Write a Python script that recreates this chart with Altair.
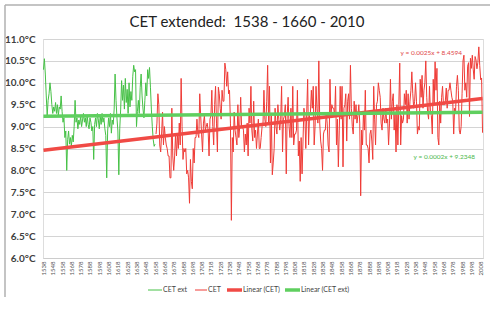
import altair as alt
import pandas as pd

# ---- data ----
ext_start = 1538
cet_ext = [
    10.30, 10.55, 10.20, 9.70, 9.25, 9.60, 9.75, 10.00, 9.80, 9.50,
    9.30, 9.45, 9.35, 9.55, 9.30, 9.50, 9.25, 9.45, 9.40, 9.70,
    9.35, 9.10, 9.20, 8.75, 8.90, 8.00, 8.70, 8.90, 8.60, 8.75,
    8.55, 8.80, 8.65, 9.00, 9.60, 9.10, 9.20, 8.95, 9.15, 9.05,
    9.25, 9.00, 9.15, 9.30, 9.10, 9.20, 9.00, 9.25, 9.05, 8.95,
    9.20, 9.10, 8.90, 9.00, 8.25, 9.05, 9.20, 9.00, 9.30, 9.15,
    8.95, 9.25, 9.05, 9.30, 9.10, 9.20, 8.95, 8.80, 7.83, 8.90,
    9.20, 9.00, 9.30, 8.85, 9.15, 9.05, 9.40, 10.20, 9.60, 9.20,
    8.90, 7.90, 8.95, 9.40, 10.05, 9.60, 9.95, 9.40, 10.10, 9.55,
    9.85, 9.30, 10.00, 9.45, 9.80, 9.60, 10.15, 10.40, 10.25, 10.30,
    9.00, 9.35, 9.60, 9.30, 9.90, 10.20, 9.70, 9.40, 9.20, 9.60,
    10.00, 9.70, 10.30, 10.10, 10.35, 9.90, 9.40, 9.00, 8.70, 8.55,
    8.60,
]
cet_start = 1659
cet = [
    8.83, 9.08, 9.75, 9.50, 8.58, 8.42, 8.83, 9.33, 8.58, 9.00,   # 1659-1668
    8.75, 8.58, 8.50, 8.33, 8.33, 7.83, 7.83, 9.42, 8.33, 8.00,   # 1669-1678
    8.33, 8.83, 8.33, 8.83, 8.50, 9.08, 8.58, 10.10, 9.00, 8.25,  # 1679-1688
    8.50, 8.42, 8.50, 7.92, 8.00, 7.83, 7.25, 8.25, 7.75, 7.58,   # 1689-1698
    8.50, 8.17, 8.75, 8.75, 9.17, 8.83, 8.75, 9.75, 9.25, 8.83,   # 1699-1708
    8.42, 9.08, 9.25, 8.92, 9.00, 9.08, 8.92, 8.33, 9.17, 9.25,   # 1709-1718
    9.83, 9.00, 8.58, 9.50, 9.92, 9.08, 8.42, 9.90, 9.75, 9.42,   # 1719-1728
    9.17, 9.83, 9.58, 9.58, 10.45, 10.30, 9.92, 10.25, 9.75, 9.83, # 1729-1738
    9.08, 6.86, 8.75, 8.42, 9.33, 8.92, 8.75, 8.58, 9.50, 8.75,   # 1739-1748
    9.00, 9.67, 9.00, 9.00, 8.92, 8.42, 8.83, 8.58, 9.08, 8.33,   # 1749-1758
    9.42, 9.08, 9.92, 8.92, 8.67, 9.58, 8.75, 8.92, 8.50, 8.83,   # 1759-1768
    9.17, 8.50, 8.50, 8.75, 9.00, 9.08, 9.83, 9.17, 9.00, 9.58,   # 1769-1778
    10.40, 9.08, 9.92, 8.17, 9.25, 7.90, 8.17, 8.50, 9.42, 9.00,  # 1779-1788
    8.83, 9.50, 9.17, 8.92, 9.17, 9.92, 8.42, 9.17, 9.25, 9.50,   # 1789-1798
    7.92, 9.25, 9.67, 9.00, 8.75, 9.42, 8.75, 9.92, 8.58, 8.83,   # 1799-1808
    8.83, 8.92, 9.83, 8.33, 8.67, 7.75, 8.75, 7.92, 8.67, 9.42,   # 1809-1818
    9.25, 8.50, 9.33, 10.08, 8.58, 9.25, 9.33, 9.83, 9.42, 9.92,  # 1819-1828
    8.58, 9.00, 9.92, 9.42, 9.08, 10.50, 9.08, 8.67, 8.50, 8.00,  # 1829-1838
    8.83, 8.92, 8.92, 9.33, 9.08, 8.58, 8.42, 10.08, 9.25, 9.50,  # 1839-1848
    9.42, 9.42, 9.25, 9.92, 8.58, 9.17, 8.08, 8.92, 9.92, 9.17,   # 1849-1858
    9.92, 8.08, 9.42, 9.50, 9.75, 8.67, 9.58, 9.75, 9.17, 10.40,  # 1859-1868
    9.42, 9.00, 8.83, 9.58, 9.17, 9.50, 9.08, 9.25, 9.50, 9.08,   # 1869-1878
    7.42, 8.92, 8.58, 9.33, 8.92, 9.83, 8.58, 8.58, 8.50, 8.17,   # 1879-1888
    8.83, 8.92, 8.67, 8.25, 9.92, 9.17, 8.58, 9.50, 9.58, 10.00,  # 1889-1898
    9.83, 9.67, 9.08, 8.92, 9.42, 9.17, 9.08, 9.42, 9.08, 9.17,   # 1899-1908
    8.58, 9.08, 10.08, 9.17, 9.58, 9.75, 8.92, 9.33, 8.42, 9.50,  # 1909-1918
    8.58, 9.50, 10.45, 8.58, 9.25, 9.08, 9.17, 9.75, 9.50, 9.83,  # 1919-1928
    9.08, 9.75, 9.17, 9.58, 9.83, 10.25, 9.75, 9.42, 9.58, 10.00, # 1929-1938
    9.58, 8.83, 9.00, 8.92, 10.08, 9.67, 10.17, 9.42, 9.83, 10.00, # 1939-1948
    10.50, 9.67, 9.33, 9.17, 9.92, 9.33, 9.25, 8.83, 10.08, 9.50, # 1949-1958
    10.48, 9.83, 10.33, 8.75, 8.58, 9.58, 9.08, 9.67, 9.92, 9.50, # 1959-1968
    9.50, 9.58, 9.88, 9.42, 9.83, 9.83, 10.00, 9.83, 9.67, 9.58,  # 1969-1978
    8.83, 9.42, 9.33, 9.92, 10.17, 9.83, 8.92, 8.83, 9.00, 9.75,  # 1979-1988
    10.50, 10.63, 9.83, 10.00, 9.67, 10.38, 10.46, 9.23, 10.56, 10.33, # 1989-1998
    10.63, 10.31, 10.08, 10.60, 10.52, 10.32, 10.47, 10.82, 10.39, 10.07, # 1999-2008
    10.11, 8.86,                                                   # 2009-2010
]
trend_years = [1538, 2010]
trend_cet = [8.462, 9.642]      # y = 0.0025x + 8.4594
trend_ext = [9.235, 9.330]      # y = 0.0002x + 9.2348
series_names = ["CET ext", "CET", "Linear (CET)", "Linear (CET ext)"]
series_colors = ["#46c146", "#ef3b36", "#f04a45", "#5fcf5f"]
series_widths = [1, 1, 3.5, 3.5]
title_text = "CET extended:\u00a0 1538 - 1660 - 2010"
eq_cet = "y = 0.0025x + 8.4594"
eq_ext = "y = 0.0002x + 9.2348"
y_ticks = [6.0, 6.5, 7.0, 7.5, 8.0, 8.5, 9.0, 9.5, 10.0, 10.5, 11.0]
x_ticks = list(range(1538, 2009, 10))

rows = []
for i, v in enumerate(cet_ext):
    rows.append({"year": ext_start + i, "temp": v, "series": "CET ext"})
for i, v in enumerate(cet):
    rows.append({"year": cet_start + i, "temp": v, "series": "CET"})
data_df = pd.DataFrame(rows)

trows = []
for yr, a, b in zip(trend_years, trend_cet, trend_ext):
    trows.append({"year": yr, "temp": a, "series": "Linear (CET)"})
    trows.append({"year": yr, "temp": b, "series": "Linear (CET ext)"})
trend_df = pd.DataFrame(trows)

FONT = "Lato"

x_enc = alt.X("year:Q",
              scale=alt.Scale(domain=[1537.5, 2010.5], nice=False, zero=False),
              axis=alt.Axis(values=x_ticks, format="d", labelAngle=-90, labelFontSize=6,
                            labelColor="#555555", grid=False, ticks=False, domain=True,
                            domainColor="#cccccc", labelPadding=3, title=None,
                            labelFont=FONT))
y_enc = alt.Y("temp:Q",
              scale=alt.Scale(domain=[6, 11], nice=False, zero=False),
              axis=alt.Axis(values=y_ticks, labelExpr="format(datum.value, '.1f') + '°C'",
                            labelFontSize=10, labelColor="#404040", labelFont=FONT,
                            labelFontWeight="bold", grid=True, gridColor="#d4d4d4",
                            ticks=False, domain=False, labelPadding=8, title=None))
color_enc = alt.Color("series:O", sort=series_names,
                      scale=alt.Scale(type="ordinal", domain=series_names, range=series_colors),
                      legend=None)
width_enc = alt.StrokeWidth("series:O", sort=series_names,
                            scale=alt.Scale(type="ordinal", domain=series_names, range=series_widths),
                            legend=None)

lines = alt.Chart(data_df).mark_line(interpolate="linear").encode(
    x=x_enc, y=y_enc, color=color_enc, strokeWidth=width_enc)
trends = alt.Chart(trend_df).mark_line().encode(
    x=x_enc, y=y_enc, color=color_enc, strokeWidth=width_enc)

eq1 = alt.Chart(pd.DataFrame({"t": [eq_cet]})).mark_text(
    align="right", baseline="middle", fontSize=6.5, color="#e04848", font=FONT
).encode(text="t:N", x=alt.value(419), y=alt.value(14))
eq2 = alt.Chart(pd.DataFrame({"t": [eq_ext]})).mark_text(
    align="right", baseline="middle", fontSize=6.5, color="#4cb84c", font=FONT
).encode(text="t:N", x=alt.value(432), y=alt.value(118))
title = alt.Chart(pd.DataFrame({"t": [title_text]})).mark_text(
    align="center", baseline="alphabetic", fontSize=15, color="#222222", font=FONT
).encode(text="t:N", x=alt.value(204), y=alt.value(-12))

frame_top = alt.Chart(pd.DataFrame({"a": [0]})).mark_rule(color="#b0b0b0", strokeWidth=1.5).encode(
    x=alt.value(-38), x2=alt.value(447), y=alt.value(-34))
frame_left = alt.Chart(pd.DataFrame({"a": [0]})).mark_rule(color="#b0b0b0", strokeWidth=1.5).encode(
    x=alt.value(-38), y=alt.value(-34), y2=alt.value(258))

# ---- hand-placed legend (symbol start, symbol end) in plot pixels ----
legend_slots = [(105, 119), (152, 164), (184, 199), (242, 257)]
legend_y = 251
legend_layers = []
for name, col, w, (s0, s1) in zip(series_names, series_colors, series_widths, legend_slots):
    legend_layers.append(
        alt.Chart(pd.DataFrame({"a": [0]})).mark_rule(color=col, strokeWidth=w).encode(
            x=alt.value(s0), x2=alt.value(s1), y=alt.value(legend_y)))
    legend_layers.append(
        alt.Chart(pd.DataFrame({"t": [name]})).mark_text(
            align="left", baseline="middle", fontSize=7, color="#444444", font=FONT
        ).encode(text="t:N", x=alt.value(s1 + 1), y=alt.value(legend_y)))

chart = alt.layer(lines, trends, eq1, eq2, title, frame_top, frame_left,
                  *legend_layers).properties(
    width=440, height=219,
    autosize=alt.AutoSizeParams(type="none"),
    padding={"left": 43, "top": 39, "right": 17, "bottom": 52},
).configure_view(stroke=None).configure(background="white")

chart.save("out.html", embed_options={"renderer": "svg", "actions": False})
